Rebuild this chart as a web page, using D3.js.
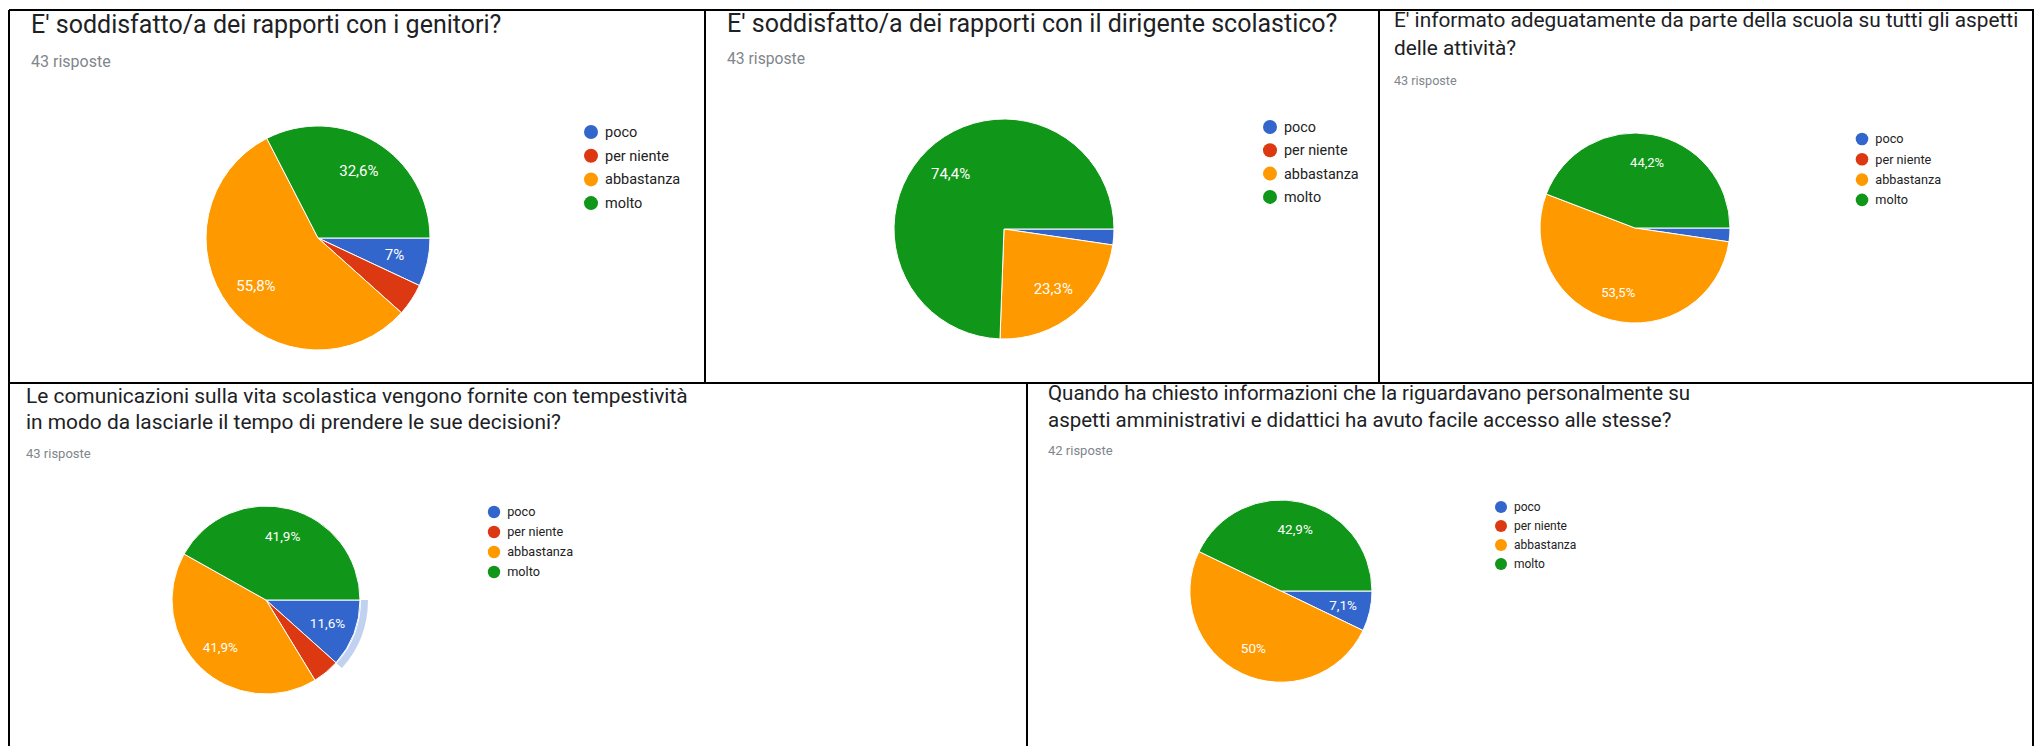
<!DOCTYPE html>
<html>
<head>
<meta charset="utf-8">
<script src="https://cdn.jsdelivr.net/npm/d3@7/dist/d3.min.js"></script>
<style>
  html, body { margin: 0; padding: 0; background: #fff; }
  svg { display: block; }
  text { font-family: Roboto, "Noto Sans", Arial, sans-serif; }
</style>
</head>
<body>
<svg id="chart" width="2035" height="746"></svg>
<script>
// Answer categories and their colours (shared by all five questions)
const categories = ["poco", "per niente", "abbastanza", "molto"];
const categoryColors = ["#3366cc", "#dc3912", "#ff9900", "#109618"];

// Question texts, one entry per line as printed
const q1Title = ["E' soddisfatto/a dei rapporti con i genitori?"];
const q2Title = ["E' soddisfatto/a dei rapporti con il dirigente scolastico?"];
const q3Title = ["E' informato adeguatamente da parte della scuola su tutti gli aspetti",
                 "delle attività?"];
const q4Title = ["Le comunicazioni sulla vita scolastica vengono fornite con tempestività",
                 "in modo da lasciarle il tempo di prendere le sue decisioni?"];
const q5Title = ["Quando ha chiesto informazioni che la riguardavano personalmente su",
                 "aspetti amministrativi e didattici ha avuto facile accesso alle stesse?"];

// Number of answers per category: poco, per niente, abbastanza, molto
const q1Counts = [3, 2, 24, 14];
const q2Counts = [1, 0, 10, 32];
const q3Counts = [1, 0, 23, 19];
const q4Counts = [5, 2, 18, 18];
const q5Counts = [3, 0, 21, 18];

// Category highlighted with a hover ring (question 4 only)
const q4Highlight = "poco";

// Panel geometry
const panels = [
  { title: q1Title, counts: q1Counts, tx: 31, tys: [33], tsize: 25, sy: 67, ssize: 16,
    cx: 318, cy: 238, r: 112, lx: 591, ly: 132, lstep: 23.7, lr: 7, lsize: 14.5, vsize: 15 },
  { title: q2Title, counts: q2Counts, tx: 727, tys: [32], tsize: 25, sy: 64, ssize: 15.7,
    cx: 1004, cy: 229, r: 110, lx: 1270, ly: 127, lstep: 23.3, lr: 7, lsize: 14.4, vsize: 15 },
  { title: q3Title, counts: q3Counts, tx: 1394, tys: [27, 55], tsize: 20.8, sy: 85, ssize: 12.6,
    cx: 1635, cy: 228, r: 95, lx: 1862, ly: 139, lstep: 20.3, lr: 6.3, lsize: 12.7, vsize: 13 },
  { title: q4Title, counts: q4Counts, tx: 26, tys: [403, 429], tsize: 20.9, sy: 458, ssize: 13,
    cx: 266, cy: 600, r: 94, lx: 494, ly: 512, lstep: 20, lr: 6.2, lsize: 12.7, vsize: 13.5,
    highlight: q4Highlight },
  { title: q5Title, counts: q5Counts, tx: 1048, tys: [400, 427], tsize: 20.5, sy: 455, ssize: 13,
    cx: 1281, cy: 591, r: 91, lx: 1501, ly: 507, lstep: 19, lr: 6, lsize: 12, vsize: 13.5 }
];

const svg = d3.select("#chart");
svg.append("rect").attr("width", 2035).attr("height", 746).attr("fill", "#fff");

const color = d3.scaleOrdinal().domain(categories).range(categoryColors);

const pie = d3.pie()
  .sort(null)
  .value(d => d.count)
  .startAngle(Math.PI / 2)
  .endAngle(Math.PI / 2 + 2 * Math.PI);

function pctLabel(count, total) {
  const p = Math.round(count / total * 1000) / 10;
  return String(p).replace(".", ",") + "%";
}

panels.forEach(p => {
  const g = svg.append("g");
  const total = d3.sum(p.counts);
  const data = categories.map((c, i) => ({ cat: c, count: p.counts[i] }));

  // question title
  g.selectAll("text.title").data(p.title).join("text")
    .attr("class", "title")
    .attr("x", p.tx).attr("y", (d, i) => p.tys[i])
    .attr("font-size", p.tsize).attr("fill", "#202124")
    .text(d => d);

  // response count
  g.append("text")
    .attr("x", p.tx).attr("y", p.sy)
    .attr("font-size", p.ssize).attr("fill", "#80868b")
    .text(total + " risposte");

  // pie
  const arcs = pie(data).filter(d => d.data.count > 0);
  const arc = d3.arc().innerRadius(0).outerRadius(p.r);
  const labelArc = d3.arc().innerRadius(p.r * 0.7).outerRadius(p.r * 0.7);
  const pg = g.append("g").attr("transform", `translate(${p.cx},${p.cy})`);

  if (p.highlight) {
    const ring = d3.arc().innerRadius(p.r + 1).outerRadius(p.r + 8);
    pg.selectAll("path.ring").data(arcs.filter(d => d.data.cat === p.highlight)).join("path")
      .attr("class", "ring")
      .attr("d", ring)
      .attr("fill", d => color(d.data.cat)).attr("fill-opacity", 0.3);
  }

  pg.selectAll("path.slice").data(arcs).join("path")
    .attr("class", "slice")
    .attr("d", arc)
    .attr("fill", d => color(d.data.cat))
    .attr("stroke", "#fff").attr("stroke-width", 1);

  pg.selectAll("text.val").data(arcs.filter(d => d.data.count / total >= 0.06)).join("text")
    .attr("class", "val")
    .attr("transform", d => `translate(${labelArc.centroid(d)})`)
    .attr("text-anchor", "middle").attr("dy", "0.36em")
    .attr("font-size", p.vsize).attr("fill", "#fff")
    .text(d => pctLabel(d.data.count, total));

  // legend
  const lg = g.selectAll("g.leg").data(categories).join("g")
    .attr("class", "leg")
    .attr("transform", (d, i) => `translate(${p.lx},${p.ly + i * p.lstep})`);
  lg.append("circle").attr("r", p.lr).attr("fill", d => color(d));
  lg.append("text").attr("x", p.lr + 7).attr("dy", "0.35em")
    .attr("font-size", p.lsize).attr("fill", "#222")
    .text(d => d);
});

// panel frames
const frameLines = [
  [9, 10, 2034, 10], [9, 10, 9, 746], [2033, 10, 2033, 746],
  [705, 10, 705, 383], [1379, 10, 1379, 383],
  [9, 383, 2033, 383], [1027, 383, 1027, 746]
];
svg.append("g").selectAll("line").data(frameLines).join("line")
  .attr("x1", d => d[0]).attr("y1", d => d[1])
  .attr("x2", d => d[2]).attr("y2", d => d[3])
  .attr("stroke", "#000").attr("stroke-width", 2);
</script>
</body>
</html>
